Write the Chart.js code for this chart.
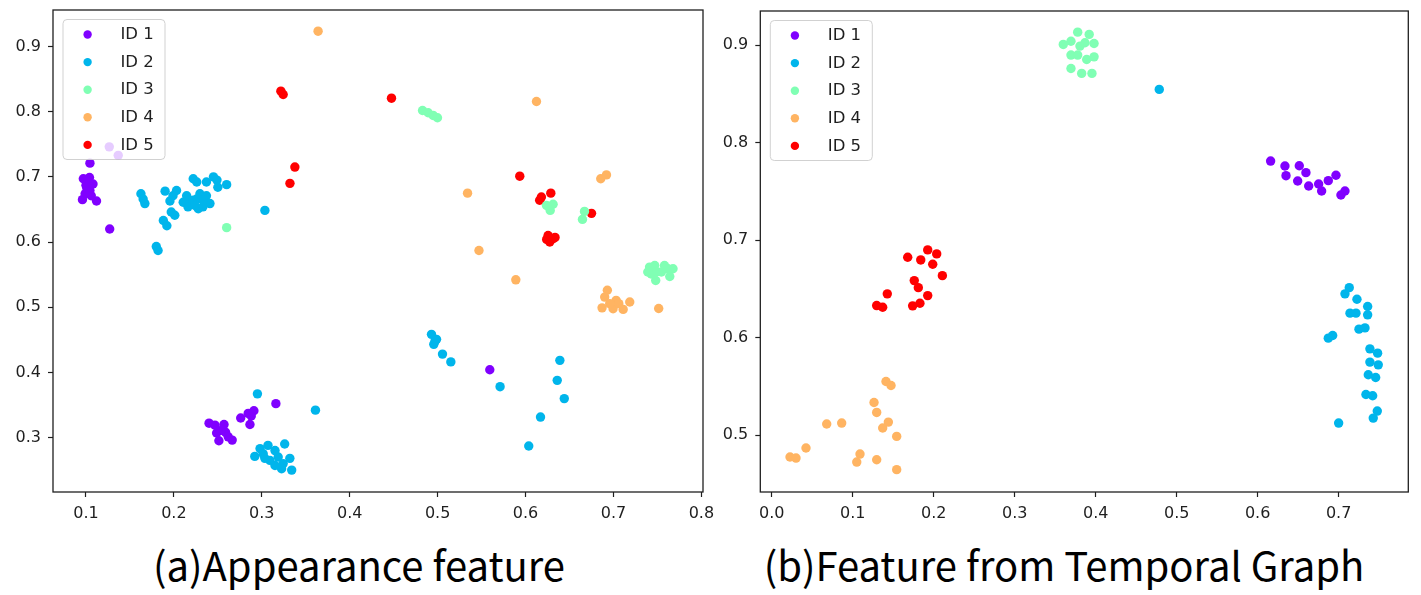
<!DOCTYPE html>
<html>
<head>
<meta charset="utf-8">
<script src="https://cdn.jsdelivr.net/npm/chart.js@4.4.0/dist/chart.umd.min.js"></script>
<style>
  html, body { margin: 0; padding: 0; background: #fff; }
  body { width: 1421px; height: 595px; position: relative; overflow: hidden; }
  canvas { position: absolute; top: 0; }
  #cL { left: 0; }
  #cR { left: 715px; }
  .cap { position: absolute; top: 536px; width: 700px; text-align: center;
         font-family: "Noto Sans CJK SC", "Noto Sans", sans-serif; font-size: 40px;
         color: #000; line-height: 56px; white-space: nowrap; }
</style>
</head>
<body>
<canvas id="cL" width="715" height="530"></canvas>
<canvas id="cR" width="706" height="530"></canvas>
<div class="cap" id="capL" style="left:9px;"></div>
<div class="cap" id="capR" style="left:714px;"></div>
<script>
// ---------- labels ----------
const seriesLabels = ['ID 1', 'ID 2', 'ID 3', 'ID 4', 'ID 5'];
const seriesColors = ['#8000ff', '#00b5eb', '#80ffb4', '#ffb462', '#ff0000'];
const captions = ['(a)Appearance feature', '(b)Feature from Temporal Graph'];

// ---------- tick labels ----------
const leftXTicks = [0.1, 0.2, 0.3, 0.4, 0.5, 0.6, 0.7, 0.8];
const leftYTicks = [0.3, 0.4, 0.5, 0.6, 0.7, 0.8, 0.9];
const rightXTicks = [0.0, 0.1, 0.2, 0.3, 0.4, 0.5, 0.6, 0.7];
const rightYTicks = [0.5, 0.6, 0.7, 0.8, 0.9];

// ---------- (a) Appearance feature ----------
const appearanceId1 = [
  [0.1265, 0.746], [0.1367, 0.733], [0.1045, 0.721],
  [0.097, 0.697], [0.104, 0.699], [0.108, 0.689], [0.100, 0.687], [0.1045, 0.679],
  [0.099, 0.674], [0.106, 0.671], [0.096, 0.665], [0.112, 0.663], [0.102, 0.693], [0.101, 0.683],
  [0.127, 0.620],
  [0.316, 0.352],
  [0.240, 0.322], [0.2467, 0.319], [0.257, 0.320], [0.2486, 0.307], [0.2588, 0.308],
  [0.2512, 0.295], [0.2618, 0.301], [0.2663, 0.296], [0.254, 0.311],
  [0.276, 0.330], [0.2845, 0.337], [0.291, 0.341], [0.288, 0.333], [0.2865, 0.320],
  [0.5593, 0.404]
];
const appearanceId2 = [
  [0.1625, 0.674], [0.165, 0.666], [0.167, 0.659],
  [0.190, 0.678], [0.203, 0.679], [0.199, 0.671], [0.1955, 0.663],
  [0.197, 0.646], [0.201, 0.641], [0.188, 0.633], [0.192, 0.625],
  [0.222, 0.697], [0.226, 0.692], [0.237, 0.692], [0.245, 0.700], [0.249, 0.695], [0.250, 0.684],
  [0.260, 0.688],
  [0.2145, 0.671], [0.2106, 0.661], [0.218, 0.659], [0.226, 0.666], [0.2296, 0.674],
  [0.237, 0.671], [0.241, 0.659], [0.233, 0.654], [0.2277, 0.651], [0.216, 0.654],
  [0.222, 0.664], [0.233, 0.664], [0.224, 0.656],
  [0.3035, 0.6485], [0.180, 0.593], [0.182, 0.587],
  [0.295, 0.367], [0.361, 0.342],
  [0.326, 0.290], [0.298, 0.283], [0.307, 0.288], [0.315, 0.280], [0.292, 0.271],
  [0.3016, 0.275], [0.3092, 0.265], [0.3186, 0.270], [0.3243, 0.260], [0.3319, 0.268],
  [0.315, 0.257], [0.334, 0.250], [0.3225, 0.252], [0.3035, 0.268],
  [0.493, 0.4583], [0.4987, 0.4506], [0.4956, 0.443], [0.497, 0.448],
  [0.5055, 0.428], [0.515, 0.416], [0.571, 0.378],
  [0.639, 0.4184], [0.636, 0.3877], [0.644, 0.3597], [0.617, 0.3314], [0.6036, 0.287]
];
const appearanceId3 = [
  [0.260, 0.622],
  [0.4828, 0.8018], [0.4892, 0.7983], [0.4949, 0.7942], [0.4998, 0.7906],
  [0.6238, 0.656], [0.6313, 0.658], [0.628, 0.6485],
  [0.667, 0.647], [0.6647, 0.6347],
  [0.741, 0.5615], [0.7469, 0.564], [0.743, 0.551], [0.7488, 0.554], [0.748, 0.541],
  [0.758, 0.564], [0.762, 0.559], [0.7677, 0.559], [0.764, 0.547], [0.7545, 0.554], [0.739, 0.554]
];
const appearanceId4 = [
  [0.364, 0.9235], [0.6124, 0.8156], [0.534, 0.675], [0.6855, 0.697], [0.692, 0.703],
  [0.547, 0.587], [0.5889, 0.542],
  [0.693, 0.526], [0.690, 0.5155], [0.687, 0.499], [0.6995, 0.4977], [0.703, 0.5104],
  [0.706, 0.5054], [0.711, 0.4966], [0.7185, 0.508], [0.6957, 0.5054],
  [0.7514, 0.498]
];
const appearanceId5 = [
  [0.3217, 0.8315], [0.3243, 0.8264], [0.3376, 0.715], [0.332, 0.690],
  [0.4475, 0.8207], [0.5934, 0.701], [0.6287, 0.675], [0.616, 0.664], [0.618, 0.669],
  [0.675, 0.644],
  [0.6256, 0.610], [0.6313, 0.605], [0.6275, 0.600], [0.624, 0.604], [0.6335, 0.607]
];

// ---------- (b) Feature from Temporal Graph ----------
const temporalId1 = [
  [0.616, 0.7811], [0.6337, 0.776], [0.6514, 0.7763], [0.6596, 0.7692], [0.635, 0.7661],
  [0.6494, 0.7607], [0.663, 0.7555], [0.6753, 0.7576], [0.679, 0.7504], [0.6872, 0.761],
  [0.6967, 0.7665], [0.7028, 0.7463], [0.7078, 0.7504]
];
const temporalId2 = [
  [0.4785, 0.8546],
  [0.7131, 0.6513], [0.7078, 0.6449], [0.7226, 0.6394], [0.7358, 0.6319], [0.7358, 0.6234],
  [0.714, 0.6251], [0.7214, 0.6251], [0.7251, 0.6087], [0.7325, 0.610], [0.6872, 0.5995],
  [0.6926, 0.6022], [0.7386, 0.5885], [0.7481, 0.5841], [0.7386, 0.5749], [0.7489, 0.5721],
  [0.7366, 0.5619], [0.7457, 0.5591], [0.7337, 0.5417], [0.742, 0.5404], [0.7477, 0.5247],
  [0.7427, 0.5175], [0.700, 0.5124]
];
const temporalId3 = [
  [0.3778, 0.9133], [0.392, 0.911], [0.360, 0.9007], [0.3695, 0.904], [0.3806, 0.899],
  [0.3868, 0.9024], [0.398, 0.9017], [0.3695, 0.8898], [0.3778, 0.8898], [0.3889, 0.8853],
  [0.398, 0.888], [0.3695, 0.876], [0.3827, 0.871], [0.3954, 0.871]
];
const temporalId4 = [
  [0.1411, 0.555], [0.1473, 0.5509], [0.1263, 0.5335], [0.1296, 0.5233], [0.144, 0.5134],
  [0.137, 0.5073], [0.1543, 0.4987], [0.0679, 0.5114], [0.0864, 0.5124], [0.0423, 0.4868],
  [0.0226, 0.4776], [0.030, 0.4765], [0.109, 0.4806], [0.105, 0.4724], [0.1296, 0.4748],
  [0.1543, 0.4646]
];
const temporalId5 = [
  [0.1679, 0.6825], [0.184, 0.6797], [0.1926, 0.690], [0.2037, 0.6859], [0.1988, 0.6753],
  [0.2107, 0.6636], [0.176, 0.6585], [0.181, 0.6513], [0.1926, 0.6431], [0.1296, 0.6329],
  [0.137, 0.6312], [0.1427, 0.6449], [0.174, 0.6326], [0.183, 0.6353]
];

const leftSeries = [appearanceId1, appearanceId2, appearanceId3, appearanceId4, appearanceId5];
const rightSeries = [temporalId1, temporalId2, temporalId3, temporalId4, temporalId5];

document.getElementById('capL').textContent = captions[0];
document.getElementById('capR').textContent = captions[1];

const TICK_FONT = { family: 'DejaVu Sans', size: 16 };
const INK = '#1f1f1f';

const framePlugin = {
  id: 'frameAndLegend',
  afterDatasetsDraw(chart) {
    const { ctx, chartArea: a } = chart;
    ctx.save();
    // legend (semi-transparent white box, drawn over points)
    const bx = a.left + 10, by = a.top + 9.5, bw = 102, bh = 140, r = 4;
    ctx.beginPath();
    ctx.moveTo(bx + r, by);
    ctx.lineTo(bx + bw - r, by); ctx.quadraticCurveTo(bx + bw, by, bx + bw, by + r);
    ctx.lineTo(bx + bw, by + bh - r); ctx.quadraticCurveTo(bx + bw, by + bh, bx + bw - r, by + bh);
    ctx.lineTo(bx + r, by + bh); ctx.quadraticCurveTo(bx, by + bh, bx, by + bh - r);
    ctx.lineTo(bx, by + r); ctx.quadraticCurveTo(bx, by, bx + r, by);
    ctx.closePath();
    ctx.fillStyle = 'rgba(255,255,255,0.8)';
    ctx.fill();
    ctx.strokeStyle = 'rgba(204,204,204,0.9)';
    ctx.lineWidth = 1;
    ctx.stroke();
    ctx.font = '16.5px "DejaVu Sans"';
    ctx.textBaseline = 'middle';
    ctx.textAlign = 'left';
    chart.data.datasets.forEach((ds, i) => {
      const yy = by + 15 + i * 27.6;
      ctx.beginPath();
      ctx.arc(bx + 24.6, yy, 4.2, 0, Math.PI * 2);
      ctx.fillStyle = ds.backgroundColor;
      ctx.fill();
      ctx.fillStyle = INK;
      ctx.fillText(ds.label, bx + 57.5, yy + 0.5);
    });
    // frame (all four spines)
    ctx.strokeStyle = INK;
    ctx.lineWidth = 1.3;
    ctx.strokeRect(a.left, a.top, a.right - a.left, a.bottom - a.top);
    ctx.restore();
  }
};

function makeChart(id, series, xTicks, yTicks, xr, yr, yAxisWidth, padTop, padRight) {
  const datasets = series.map((pts, i) => ({
    label: seriesLabels[i],
    data: pts.map(p => ({ x: p[0], y: p[1] })),
    backgroundColor: seriesColors[i],
    borderWidth: 0,
    pointRadius: 4.7,
    pointHoverRadius: 4.7
  }));
  const axis = (ticksArr, min, max, fit) => ({
    type: 'linear',
    min, max,
    afterBuildTicks: s => { s.ticks = ticksArr.map(v => ({ value: v })); },
    afterFit: fit,
    border: { display: false },
    grid: { drawOnChartArea: false, drawTicks: true, tickLength: 5, tickColor: INK, tickWidth: 1.2 },
    ticks: { color: INK, font: TICK_FONT, padding: 7, autoSkip: false, maxRotation: 0,
             callback: v => Number(v).toFixed(1) }
  });
  return new Chart(document.getElementById(id), {
    type: 'scatter',
    data: { datasets },
    options: {
      responsive: false,
      animation: false,
      events: [],
      layout: { padding: { top: padTop, right: padRight, left: 0, bottom: 0 } },
      plugins: { legend: { display: false }, tooltip: { enabled: false } },
      scales: {
        x: axis(xTicks, xr[0], xr[1], s => { s.height = 38; s.paddingLeft = 0; s.paddingRight = 0; }),
        y: axis(yTicks, yr[0], yr[1], s => { s.width = yAxisWidth; s.paddingTop = 0; s.paddingBottom = 0; })
      }
    },
    plugins: [framePlugin]
  });
}

makeChart('cL', leftSeries, leftXTicks, leftYTicks, [0.0625, 0.8018], [0.2164, 0.956], 53, 10, 12);
makeChart('cR', rightSeries, rightXTicks, rightYTicks, [-0.0141, 0.786], [0.4417, 0.935], 45.3, 11, 12.7);
</script>
</body>
</html>
